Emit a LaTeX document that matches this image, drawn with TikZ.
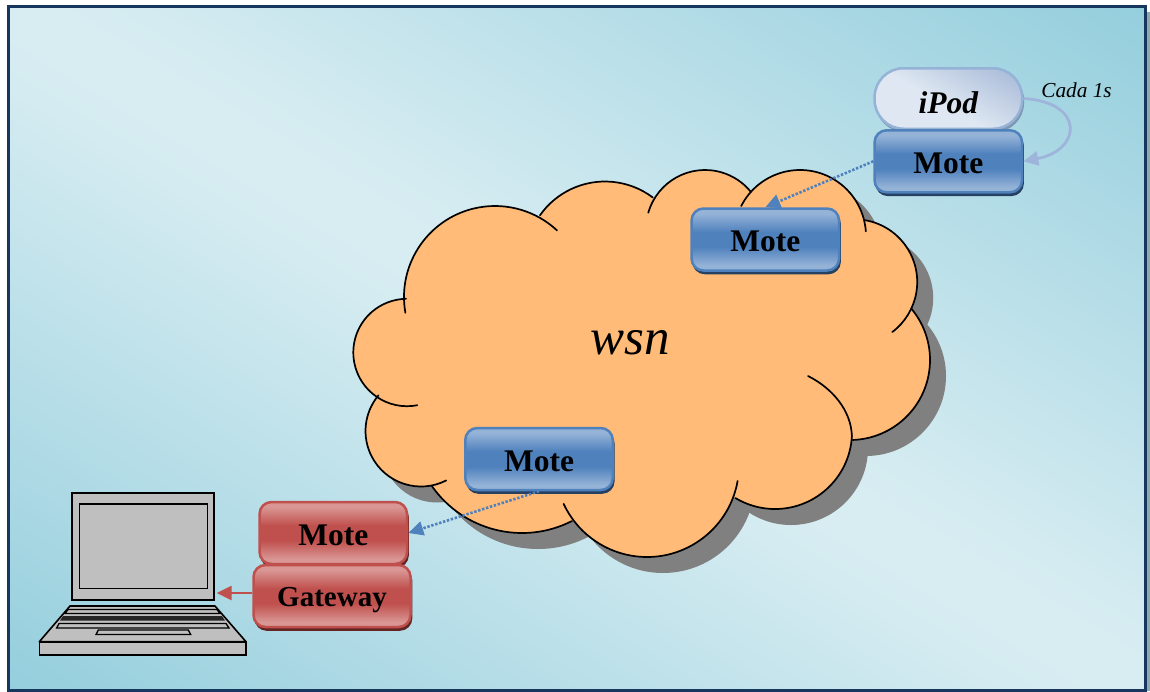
\documentclass[tikz,border=0pt]{standalone}
\usepackage{fontspec}
\setmainfont{Liberation Serif}
\usetikzlibrary{arrows.meta,shadows}
\definecolor{framecol}{HTML}{17375E}
\definecolor{frameshadow}{HTML}{8FA9AE}
\definecolor{cloudfill}{HTML}{FFBB77}
\definecolor{cloudshadow}{HTML}{808080}
\definecolor{bluemid}{HTML}{4F81BD}
\definecolor{bluelight}{HTML}{95B3D7}
\definecolor{blueshadow}{HTML}{254061}
\definecolor{redmid}{HTML}{C0504D}
\definecolor{redlight}{HTML}{D99694}
\definecolor{redshadow}{HTML}{632523}
\definecolor{ipodlight}{HTML}{DEE7F2}
\definecolor{ipoddark}{HTML}{A8BAD8}
\definecolor{ipodshadow}{HTML}{7F98B0}
\definecolor{loopcol}{HTML}{9FB4DA}
\definecolor{laptopgrey}{HTML}{BFBFBF}
\pgfdeclarefunctionalshading{bgdiag}{\pgfpointorigin}{\pgfpoint{100bp}{100bp}}{}{
  25 sub 50 div exch 25 sub 50 div
  add 1 sub dup mul 0.004 add sqrt
  dup dup
  -0.282 mul 0.865 add
  3 1 roll
  -0.129 mul 0.938 add
  exch
  -0.090 mul 0.956 add
}
\pgfdeclareverticalshading{bluebx}{100bp}{color(0bp)=(bluelight);color(29bp)=(bluelight);color(44bp)=(bluemid);color(56bp)=(bluemid);color(71bp)=(bluelight);color(100bp)=(bluelight)}
\pgfdeclareverticalshading{redbx}{100bp}{color(0bp)=(redlight);color(29bp)=(redlight);color(44bp)=(redmid);color(56bp)=(redmid);color(71bp)=(redlight);color(100bp)=(redlight)}
\pgfdeclareverticalshading{ipodsh}{100bp}{color(0bp)=(ipodlight);color(46bp)=(ipodlight);color(82bp)=(ipoddark);color(100bp)=(ipoddark)}
\tikzset{
  x=1pt,y=-1pt,
  basebox/.style={rectangle,rounded corners=12pt,line width=2.5pt,inner sep=0pt,outer sep=1.25pt,
    font=\fontsize{31.5}{36}\selectfont\bfseries,text=black,text height=24pt,text depth=0pt},
  bluebox/.style={basebox,draw=bluemid,shading=bluebx,minimum width=147.5pt,minimum height=62pt,
    copy shadow={shadow xshift=1.3pt,shadow yshift=-3.3pt,fill=blueshadow,draw=blueshadow,line width=1pt}},
  redbox/.style={basebox,draw=redmid,shading=redbx,minimum height=62pt,
    copy shadow={shadow xshift=1.3pt,shadow yshift=-3.3pt,fill=redshadow,draw=redshadow,line width=1pt}},
  ipodbox/.style={basebox,rounded corners=29pt,draw=bluelight,shading=ipodsh,shading angle=-30,
    minimum width=147.5pt,minimum height=60.5pt,font=\fontsize{31.5}{36}\selectfont\bfseries\itshape,
    text height=29.6pt,
    copy shadow={shadow xshift=1.5pt,shadow yshift=-3pt,fill=ipodshadow,draw=ipodshadow,line width=1pt}},
  linkdot/.style={draw=bluemid,line width=2.6pt,dash pattern=on 2.4pt off 1.7pt,
    -{Triangle[length=15pt,width=14pt,fill=bluemid]}},
  redlink/.style={draw=redmid,line width=2.5pt,-{Triangle[length=15pt,width=14pt,fill=redmid]}},
  looplink/.style={draw=loopcol,line width=2.8pt,-{Triangle[length=15pt,width=14pt,fill=loopcol]}},
  laptop/.style={draw=black,line width=1.6pt,fill=laptopgrey},
  cloudline/.style={draw=black,line width=1.7pt,line cap=round},
}
\newcommand{\lobeshape}{
  \fill (495,297) -- (407,352) -- (421,431) -- (522,423) -- (647,465) -- (775,432) -- (850,360) -- (854,282) -- (800,236) -- (705,229) -- (605,261) -- cycle;
  \foreach \cx/\cy/\rr in {495/297/91,407/352.5/53.7,421/431/55.5,522/423/110,647/465/92,775/432/77,850/360/80,854.5/282/62.7,800/236/66,705/229/59,605/261/79.5}
    {\fill (\cx,\cy) circle[radius=\rr];}
}
\begin{document}
\begin{tikzpicture}
\useasboundingbox (0,0) rectangle (1150,691);
\fill[white] (0,0) rectangle (1150,691);
\fill[frameshadow] (12,12) rectangle (1150,691);
\shade[shading=bgdiag] (8.5,6.5) rectangle (1145.5,690);
\draw[framecol,line width=3pt] (8.5,6.5) rectangle (1145.5,690);

% cloud
\begin{scope}[shift={(16,16)},cloudshadow]
  \lobeshape
\end{scope}
\begin{scope}[cloudfill]
  \lobeshape
\end{scope}
\foreach \cx/\cy/\rr/\sa/\ea in {495/297/91/170/313,407/352.5/53.7/79/269,421/431/55.5/63/220,522/423/110/63/145,647/465/92/10/155,775/432/77/3/121,850/360/80/-40/88,854.5/282/62.7/-80/53,800/236/66/207/356,705/229/59/196/321,605/261/79.5/215/307}
  {\draw[cloudline] (\cx,\cy) ++(\sa:\rr) arc[start angle=\sa,end angle=\ea,radius=\rr];}
\draw[cloudline] (808,376) .. controls (832,388) and (851,410) .. (851.9,436);
\node[font=\fontsize{51}{56}\selectfont\itshape,text=black] (wsn) at (630,343) {wsn};

% laptop
\node[laptop,rectangle,inner sep=0pt,outer sep=0pt,minimum width=142.5pt,minimum height=107pt] (screen) at (143,546.3) {};
\node[draw=black,line width=1.6pt,rectangle,inner sep=0pt,minimum width=128pt,minimum height=84.5pt] (panel) at (143.3,546.2) {};
\draw[laptop,line join=round] (70,606) -- (215,606) -- (246,641.7) -- (39.3,641.7) -- cycle;
\draw[laptop] (39.3,641.7) rectangle (246,655);
\draw[laptop,line width=1.3pt] (68,609.5) -- (217,609.5) -- (220,613.5) -- (65,613.5) -- cycle;
\fill[black!85] (63,616) -- (222,616) -- (225,620.5) -- (60,620.5) -- cycle;
\draw[laptop,line width=1.3pt] (59,623.5) -- (226,623.5) -- (229,628) -- (56.7,628) -- cycle;
\draw[laptop,line width=1.3pt] (98.3,630) -- (188.3,630) -- (190.7,634.5) -- (96,634.5) -- cycle;

% boxes
\node[ipodbox] (ipod) at (948.3,98.5) {iPod};
\node[bluebox] (motetr) at (948.3,161.3) {Mote};
\node[bluebox] (motec) at (765.3,239.5) {Mote};
\node[bluebox] (motel) at (539,459) {Mote};
\node[redbox,minimum width=147.5pt] (moter) at (333.3,533) {Mote};
\node[redbox,minimum width=157pt,font=\fontsize{29}{34}\selectfont\bfseries,text height=20pt] (gateway) at (332,596) {Gateway};
\node[font=\fontsize{21.3}{25}\selectfont\itshape,text=black] (cada) at (1076.5,90) {Cada 1s};

% connectors
\draw[linkdot] (motetr.west) -- (motec.north);
\draw[linkdot] (motel.south) -- (moter.east);
\coordinate (gwport) at (gateway.west |- 0,593);
\coordinate (lapport) at (216.7,593);
\draw[redlink] (gwport) -- (lapport);
\draw[looplink] (ipod.east) .. controls (1085,102) and (1082,150) .. (motetr.east);
\end{tikzpicture}
\end{document}
